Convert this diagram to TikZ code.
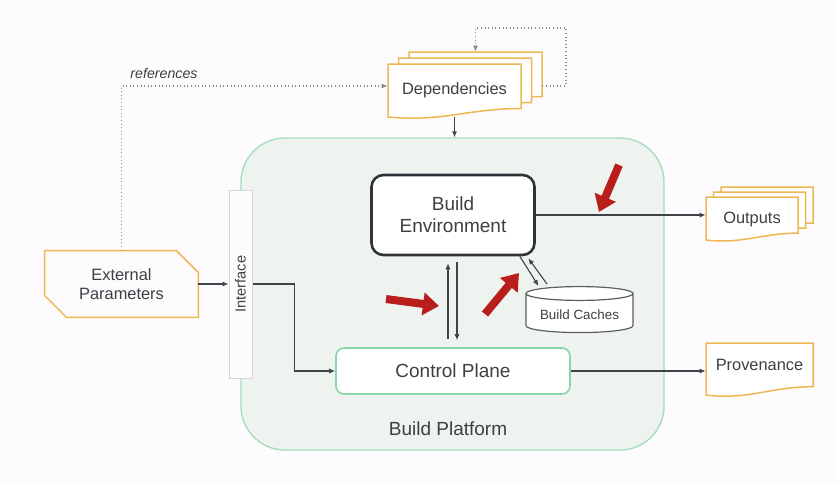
\documentclass[tikz,border=0pt]{standalone}
\usepackage{fontspec}
\setmainfont{Liberation Sans}
\usetikzlibrary{positioning,calc,arrows.meta,backgrounds,fit}
\usetikzlibrary{shapes.geometric}
\definecolor{pagebg}{HTML}{FDFBFD}
\definecolor{inkgray}{HTML}{3C4043}
\definecolor{linegray}{HTML}{404448}
\definecolor{dotgray}{HTML}{8A8D90}
\definecolor{sheetorange}{HTML}{EDB852}
\definecolor{platgreen}{HTML}{A6DFBD}
\definecolor{platfill}{HTML}{EFF3EF}
\definecolor{planegreen}{HTML}{86D6A6}
\definecolor{envdark}{HTML}{2F3438}
\definecolor{cachegray}{HTML}{5A5E62}
\definecolor{ifacegray}{HTML}{D6D8D8}
\definecolor{markred}{HTML}{B81F1A}
\tikzset{
    every node/.style={font=\fontsize{8.2}{9.4}\selectfont, text=inkgray},
    sheet/.style={draw=sheetorange, line width=0.75pt},
    doctext/.style={align=center, inner sep=0pt},
    platformbox/.style={draw=platgreen, fill=platfill, line width=0.7pt, rounded corners=22pt, inner sep=0pt},
    envbox/.style={draw=envdark, fill=white, line width=1.3pt, rounded corners=6pt, align=center,
        minimum width=81.5pt, minimum height=40pt, font=\fontsize{9.5}{11}\selectfont},
    planebox/.style={draw=planegreen, fill=white, line width=0.8pt, rounded corners=4pt,
        minimum width=117pt, minimum height=23pt, font=\fontsize{9.5}{11}\selectfont},
    ifacebox/.style={draw=ifacegray, fill=white!99!black, line width=0.5pt, minimum width=11.5pt, minimum height=94pt},
    cachedb/.style={cylinder, shape border rotate=90, aspect=0.15, draw=cachegray, fill=white, line width=0.6pt,
        minimum width=53.5pt, minimum height=23pt, font=\fontsize{6.7}{8}\selectfont},
    arrow/.style={-{Latex[length=3pt,width=2.6pt]}, line width=0.55pt, draw=linegray},
    refline/.style={arrow, draw=dotgray, dash pattern=on 0.5pt off 1.3pt},
    redmark/.style={-{Triangle[length=8pt,width=11pt]}, line width=4pt, draw=markred},
}
% document sheet with a wavy lower edge: x, y (top left), width, height
\newcommand{\docsheet}[4]{%
    \begin{scope}[shift={({#1},{#2})}]
        \filldraw[sheet, fill=white] (0,0) -- ({#3},0) -- ({#3},{0.84*#4})
            .. controls ({0.6*#3},{0.84*#4}) and ({0.4*#3},{1.1*#4}) .. (0,{#4}) -- cycle;
    \end{scope}}

\begin{document}
\begin{tikzpicture}[x=0.5pt,y=-0.5pt]
\fill[pagebg] (0,0) rectangle (838,484);
\useasboundingbox (0,0) rectangle (838,484);

% platform and what sits inside it
\node[platformbox, fit={(241,138) (664,450)}] (platform) {};
\node[font=\fontsize{9.5}{11}\selectfont] (platformlabel) at (448,429) {Build Platform};
\node[ifacebox] (interface) at (240.5,284) {};
\node[rotate=90, font=\fontsize{7.3}{8}\selectfont] (ifacelabel) at (interface.center) {Interface};
\node[envbox] (env) at (453,215) {Build\\Environment};
\node[planebox] (cplane) at (453,371) {Control Plane};
\node[cachedb] (caches) at (579.5,315) {Build Caches};

% inputs
\node[doctext, minimum width=76.5pt, minimum height=33pt] (extparams) at (121.5,284) {External\\Parameters};
\draw[sheet] (extparams.north west) -- ($(extparams.north east)+(-22,0)$) -- ($(extparams.north east)+(0,22)$)
    -- (extparams.south east) -- ($(extparams.south west)+(22,0)$) -- ($(extparams.south west)+(0,-22)$) -- cycle;
\foreach \i in {2,1,0} {\docsheet{388+10.5*\i}{64-6*\i}{133}{53}}
\node[doctext, minimum width=66.5pt, minimum height=22pt] (deps) at (454.5,90) {Dependencies};

% outputs
\foreach \i in {2,1,0} {\docsheet{706+7.5*\i}{197-5*\i}{92}{43}}
\node[doctext, minimum width=46pt, minimum height=18pt] (outputs) at (752,219) {Outputs};
\docsheet{706}{343}{107}{52}
\node[doctext, minimum width=53.5pt, minimum height=22pt] (prov) at (759.5,365) {Provenance};

% connectors
\draw[arrow] (extparams.east) -- (interface.west);
\draw[arrow] (interface.east) -- ++(42,0) |- (cplane.west);
\draw[refline] (extparams.north) |- ([yshift=2pt]deps.west);
\node[font=\itshape\fontsize{7.1}{8}\selectfont] (reflabel) at (164,73) {references};
\draw[refline] ([xshift=10.5pt,yshift=2pt]deps.east) -| (566,28) -| ([shift={(10.5pt,8pt)}]deps.north);
\draw[arrow] ([yshift=-2.5pt]deps.south) -- (deps.south |- platform.north);
\draw[arrow] (env.east) -- (env.east -| outputs.west);
\draw[arrow] (cplane.east) -- (cplane.east -| prov.west);
\draw[arrow] ([shift={(-2.5pt,4pt)}]cplane.north) -- ([shift={(-2.5pt,-3.5pt)}]env.south);
\draw[arrow] ([shift={(2pt,-3pt)}]env.south) -- ([shift={(2pt,3.5pt)}]cplane.north);
\draw[arrow] ([xshift=-8pt]env.south east) -- ([xshift=-20.5pt]caches.north);
\draw[arrow] ([shift={(-16.25pt,1pt)}]caches.north) -- ([shift={(-3.75pt,-1pt)}]env.south east);

% red markers
\coordinate (m1a) at (619,165); \coordinate (m1b) at (599,212);
\coordinate (m2a) at (386,299); \coordinate (m2b) at (439,306);
\coordinate (m3a) at (485,314); \coordinate (m3b) at (519,273);
\draw[redmark] (m1a) -- (m1b);
\draw[redmark] (m2a) -- (m2b);
\draw[redmark] (m3a) -- (m3b);
\end{tikzpicture}
\end{document}
